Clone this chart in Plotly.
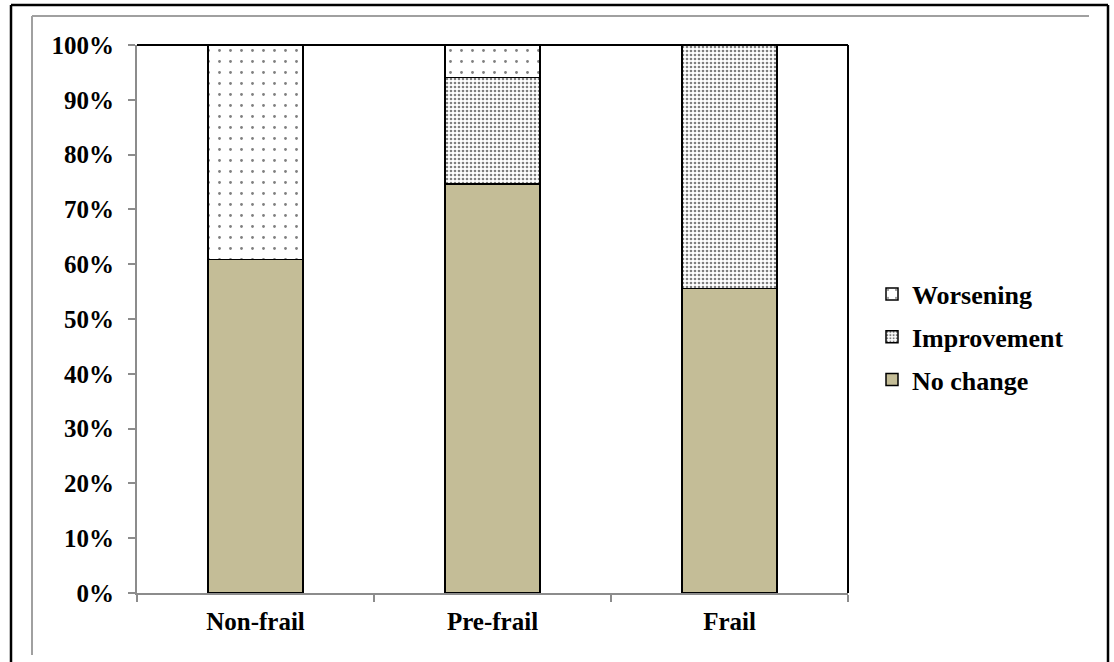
import plotly.graph_objects as go

# Share of participants by frailty status at baseline
categories = ["Non-frail", "Pre-frail", "Frail"]
no_change = [0.609, 0.746, 0.556]
improvement = [0.0, 0.195, 0.444]
worsening = [0.391, 0.059, 0.0]

FONT = "Liberation Serif"

fig = go.Figure()
fig.add_trace(go.Bar(
    name="No change", x=categories, y=no_change, legendgroup="a", legendrank=3,
    marker=dict(color="#C4BD97", line=dict(color="black", width=1.5)),
))
fig.add_trace(go.Bar(
    name="Improvement", x=categories, y=improvement, legendgroup="b", legendrank=2,
    marker=dict(color="white", line=dict(color="black", width=1.5),
                pattern=dict(shape=".", fgcolor="black", bgcolor="white",
                             size=4, solidity=0.35)),
))
fig.add_trace(go.Bar(
    name="Worsening", x=categories, y=worsening, legendgroup="c", legendrank=1,
    marker=dict(color="white", line=dict(color="black", width=1.5),
                pattern=dict(shape=".", fgcolor="black", bgcolor="white",
                             size=11, solidity=0.05)),
))

L, R, T, B = 137, 266, 45, 69
W, H = 1114, 662
pw, ph = W - L - R, H - T - B


def px(x):
    return (x - L) / pw


def py(y):
    return (H - B - y) / ph


shapes = [
    # plot frame: dark top and right edges
    dict(type="line", xref="paper", yref="paper", x0=0, x1=1, y0=1, y1=1,
         line=dict(color="black", width=2)),
    dict(type="line", xref="paper", yref="paper", x0=1, x1=1, y0=0, y1=1,
         line=dict(color="black", width=2)),
    # chart area frame (grey)
    dict(type="line", xref="paper", yref="paper", x0=px(32), x1=px(1089),
         y0=py(16), y1=py(16), line=dict(color="#A0A0A0", width=2)),
    dict(type="line", xref="paper", yref="paper", x0=px(32), x1=px(32),
         y0=py(16), y1=py(655), line=dict(color="#A0A0A0", width=2)),
    # outer black border
    dict(type="line", xref="paper", yref="paper", x0=px(11), x1=px(1108),
         y0=py(5), y1=py(5), line=dict(color="black", width=2.5)),
    dict(type="line", xref="paper", yref="paper", x0=px(11), x1=px(11),
         y0=py(5), y1=py(664), line=dict(color="black", width=2.5)),
    dict(type="line", xref="paper", yref="paper", x0=px(1108), x1=px(1108),
         y0=py(5), y1=py(664), line=dict(color="black", width=2.5)),
]

fig.update_layout(
    barmode="stack",
    bargap=0.6,
    width=W, height=H,
    margin=dict(l=L, r=R, t=T, b=B, autoexpand=False),
    paper_bgcolor="white",
    plot_bgcolor="white",
    font=dict(family=FONT, size=25, color="black"),
    shapes=shapes,
    showlegend=True,
    legend=dict(
        x=px(872), y=py(337), xanchor="left", yanchor="middle",
        traceorder="grouped", tracegroupgap=6,
        font=dict(family=FONT, size=26, color="black", weight="bold"),
        bgcolor="rgba(0,0,0,0)",
    ),
    xaxis=dict(
        type="category", tickson="boundaries", ticks="outside", ticklen=7,
        tickcolor="#8C8C8C", tickwidth=2, showline=True, linecolor="#8C8C8C",
        linewidth=2, showgrid=False, zeroline=False, ticklabelstandoff=5,
        tickfont=dict(family=FONT, size=25, color="black", weight="bold"),
    ),
    yaxis=dict(
        range=[0, 1], dtick=0.1, tickformat=".0%", ticks="outside", ticklen=7,
        tickcolor="#8C8C8C", tickwidth=2, showline=True, linecolor="#8C8C8C",
        linewidth=2, showgrid=False, zeroline=False, ticklabelstandoff=9,
        tickfont=dict(family=FONT, size=25, color="black", weight="bold"),
    ),
)

fig.write_html("out.html")
